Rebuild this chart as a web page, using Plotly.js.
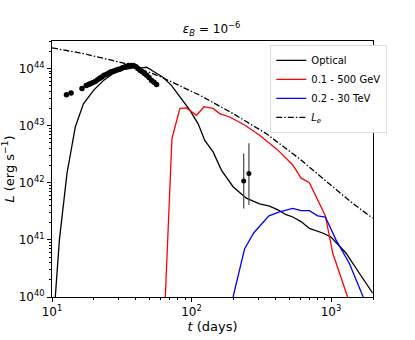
<!DOCTYPE html>
<html>
<head>
<meta charset="utf-8">
<script src="https://cdn.plot.ly/plotly-3.0.1.min.js"></script>
<style>
  html, body { margin: 0; padding: 0; background: #fff; }
  #grafica { width: 415px; height: 340px; }
</style>
</head>
<body>
<div id="grafica"></div>
<script>
// curva optica del modelo
var tOptico = [10.56, 11.3, 12.8, 14.7, 16.8, 19.9, 23.4, 27.5, 32.5, 38.3, 44, 47.7, 55, 62.8, 72, 82.6, 97.3, 111.6, 124.5, 142.8, 163.8, 198.5, 247, 307.6, 363, 420, 477, 532, 610, 700, 871, 1000, 1279, 1592, 1986];
var logLOptico = [40, 41, 42.16, 42.98, 43.38, 43.62, 43.79, 43.91, 43.98, 44.01, 44.01, 44.02, 43.93, 43.84, 43.7, 43.5, 43.27, 43.03, 42.74, 42.54, 42.22, 41.93, 41.73, 41.63, 41.59, 41.52, 41.44, 41.40, 41.32, 41.2, 41.12, 41.05, 40.77, 40.42, 40.07];

// 0.1 - 500 GeV
var tGeV = [64.9, 72.4, 82.6, 92, 108.6, 123, 142.8, 159, 188, 240, 308, 416, 532, 611, 700, 803, 912, 1028, 1315];
var logLGeV = [40, 42.77, 43.30, 43.31, 43.18, 43.33, 43.30, 43.21, 43.15, 43.01, 42.83, 42.57, 42.31, 42.08, 42.0, 41.70, 41.42, 40.77, 40];

// 0.2 - 30 TeV
var tTeV = [198.6, 240, 279, 359, 427, 532, 611, 700, 803, 912, 1086, 1352, 1702];
var logLTeV = [40, 40.84, 41.12, 41.42, 41.49, 41.55, 41.51, 41.51, 41.42, 41.40, 41.0, 40.59, 40];

// L_e
var tLe = [10, 16.8, 34.3, 59.4, 114.8, 198.6, 343, 594, 1028, 1429, 1986];
var logLLe = [44.36, 44.26, 44.08, 43.86, 43.53, 43.21, 42.86, 42.42, 41.93, 41.64, 41.38];

// datos observados
var tObs = [12.7, 13.7, 16.4, 17.6, 18.3, 18.8, 19.5, 20.4, 21.2, 22.0, 22.8, 23.6, 24.7, 25.6, 26.5, 27.5, 28.6, 29.7, 30.8, 32.0, 33.5, 35.3, 36.8, 38.3, 40.0, 41.3, 42.7, 44.3, 46.0, 47.7, 49.6, 51.8, 53.9, 56.2];
var logLObs = [43.54, 43.57, 43.65, 43.70, 43.72, 43.73, 43.75, 43.77, 43.80, 43.83, 43.85, 43.88, 43.90, 43.92, 43.94, 43.95, 43.97, 43.98, 43.99, 44.01, 44.03, 44.05, 44.05, 44.05, 44.03, 44.00, 43.97, 43.94, 43.91, 43.88, 43.84, 43.79, 43.76, 43.72];

// puntos con barras de error
var tErr = [236.6, 258];
var logLErr = [42.03, 42.16];
var logLErrArriba = [42.51, 42.69];
var logLErrAbajo = [41.55, 41.61];

function pot(arr) {
    return arr.map(function(v) { return Math.pow(10, v); });
}

var lErr = pot(logLErr);
var errArriba = pot(logLErrArriba).map(function(v, i) { return v - lErr[i]; });
var errAbajo = pot(logLErrAbajo).map(function(v, i) { return lErr[i] - v; });

var ancho = 1.3;
var data = [
    {x: tOptico, y: pot(logLOptico), mode: 'lines', name: 'Optical', line: {color: '#000', width: ancho}},
    {x: tGeV, y: pot(logLGeV), mode: 'lines', name: '0.1 - 500 GeV', line: {color: '#ff0000', width: ancho}},
    {x: tTeV, y: pot(logLTeV), mode: 'lines', name: '0.2 - 30 TeV', line: {color: '#0000ff', width: ancho}},
    {x: tLe, y: pot(logLLe), mode: 'lines', name: '<i>L<sub>e</sub></i>', line: {color: '#000', width: ancho, dash: '6px,2px,1.5px,2px'}},
    {x: tObs, y: pot(logLObs), mode: 'markers', showlegend: false, marker: {color: '#000', size: 5.5}},
    {x: tErr, y: lErr, mode: 'markers', showlegend: false, marker: {color: '#000', size: 5},
     error_y: {type: 'data', symmetric: false, array: errArriba, arrayminus: errAbajo, color: '#555', thickness: 1.3, width: 0}}
];

var menores = [];
[10, 100, 1000].forEach(function(d) {
    for (var k = 2; k <= 9; k++) menores.push(k * d);
});
var menoresY = [];
[1e40, 1e41, 1e42, 1e43, 1e44].forEach(function(d) {
    for (var k = 2; k <= 9; k++) menoresY.push(k * d);
});

var layout = {
    width: 415,
    height: 340,
    margin: {l: 52, r: 42, t: 41, b: 43},
    paper_bgcolor: '#fff',
    plot_bgcolor: '#fff',
    font: {family: 'DejaVu Sans', size: 12, color: '#000'},
    title: {text: '<i>ε<sub>B</sub></i> = 10<sup>−6</sup>', x: 0.51, xanchor: 'center', y: 0.915, yanchor: 'middle',
            font: {family: 'DejaVu Sans', size: 12, color: '#000'}},
    xaxis: {
        type: 'log',
        range: [1, Math.log10(2000)],
        tickmode: 'array',
        tickvals: [10, 100, 1000],
        ticktext: ['10<sup>1</sup>', '10<sup>2</sup>', '10<sup>3</sup>'],
        ticks: 'outside', ticklen: 4, tickcolor: '#000',
        minor: {tickmode: 'array', tickvals: menores, ticks: 'outside', ticklen: 2, tickcolor: '#000'},
        showgrid: false, zeroline: false,
        showline: true, linecolor: '#000', linewidth: 1, mirror: true,
        tickfont: {family: 'DejaVu Sans', size: 12, color: '#000'},
        title: {text: '<i>t</i> (days)', font: {family: 'DejaVu Sans', size: 13, color: '#000'}, standoff: 3}
    },
    yaxis: {
        type: 'log',
        range: [40, 44.48],
        tickmode: 'array',
        tickvals: [1e40, 1e41, 1e42, 1e43, 1e44],
        ticktext: ['10<sup>40</sup>', '10<sup>41</sup>', '10<sup>42</sup>', '10<sup>43</sup>', '10<sup>44</sup>'],
        ticks: 'outside', ticklen: 4, tickcolor: '#000',
        minor: {tickmode: 'array', tickvals: menoresY, ticks: 'outside', ticklen: 2, tickcolor: '#000'},
        showgrid: false, zeroline: false,
        showline: true, linecolor: '#000', linewidth: 1, mirror: true,
        tickfont: {family: 'DejaVu Sans', size: 12, color: '#000'},
        title: {text: '<i>L</i> (erg s<sup>−1</sup>)', font: {family: 'DejaVu Sans', size: 13, color: '#000'}, standoff: 1}
    },
    legend: {
        x: 0.68, xanchor: 'left', y: 0.985, yanchor: 'top',
        bgcolor: '#fff', bordercolor: '#ddd', borderwidth: 1,
        font: {family: 'DejaVu Sans', size: 10, color: '#000'},
        itemwidth: 30,
        tracegroupgap: 0
    },
    showlegend: true
};

Plotly.newPlot('grafica', data, layout, {staticPlot: true});
</script>
</body>
</html>
